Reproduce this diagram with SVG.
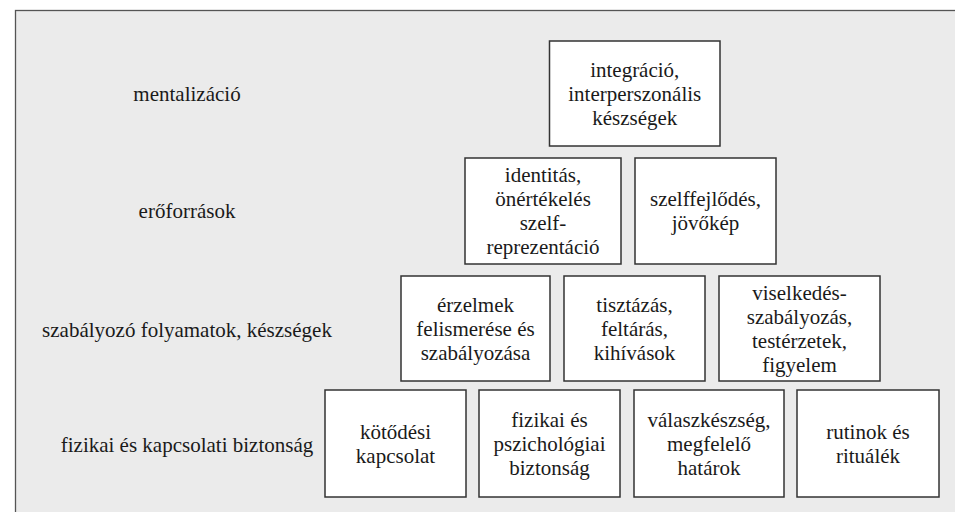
<svg xmlns="http://www.w3.org/2000/svg" width="955" height="512" viewBox="0 0 955 512" font-family="Liberation Serif, serif">
<style>
  .frame { fill: #ebebeb; stroke: #555555; stroke-width: 1.3; }
  .box { fill: #ffffff; stroke: #333333; stroke-width: 1.5; }
</style>
<rect x="0" y="0" width="955" height="512" fill="#ffffff"/>
<rect class="frame" x="15.5" y="10.5" width="960" height="520"/>
<g id="labels">
  <text font-size="21" fill="#1a1a1a" text-anchor="middle" font-family="Liberation Serif, serif"><tspan x="187" y="101" style="font-family:'Liberation Serif',serif">mentalizáció</tspan></text>
  <text font-size="21" fill="#1a1a1a" text-anchor="middle" font-family="Liberation Serif, serif"><tspan x="187" y="218" style="font-family:'Liberation Serif',serif">erőforrások</tspan></text>
  <text font-size="21" fill="#1a1a1a" text-anchor="middle" font-family="Liberation Serif, serif"><tspan x="187" y="337" style="font-family:'Liberation Serif',serif">szabályozó folyamatok, készségek</tspan></text>
  <text font-size="21" fill="#1a1a1a" text-anchor="middle" font-family="Liberation Serif, serif"><tspan x="187" y="452" style="font-family:'Liberation Serif',serif">fizikai és kapcsolati biztonság</tspan></text>
</g>
<g id="connectors"/>
<g id="n-integracio">
  <rect class="box" x="549.5" y="41" width="170.5" height="105"/>
  <text font-size="21" fill="#1a1a1a" text-anchor="middle" font-family="Liberation Serif, serif"><tspan x="634.75" y="76.5" style="font-family:'Liberation Serif',serif">integráció,</tspan><tspan x="634.75" y="100.5" style="font-family:'Liberation Serif',serif">interperszonális</tspan><tspan x="634.75" y="124.5" style="font-family:'Liberation Serif',serif">készségek</tspan></text>
</g>
<g id="n-identitas">
  <rect class="box" x="465" y="158" width="156" height="106"/>
  <text font-size="21" fill="#1a1a1a" text-anchor="middle" font-family="Liberation Serif, serif"><tspan x="543" y="182" style="font-family:'Liberation Serif',serif">identitás,</tspan><tspan x="543" y="206" style="font-family:'Liberation Serif',serif">önértékelés</tspan><tspan x="543" y="230" style="font-family:'Liberation Serif',serif">szelf-</tspan><tspan x="543" y="254" style="font-family:'Liberation Serif',serif">reprezentáció</tspan></text>
</g>
<g id="n-szelffejlodes">
  <rect class="box" x="635" y="158" width="141" height="106"/>
  <text font-size="21" fill="#1a1a1a" text-anchor="middle" font-family="Liberation Serif, serif"><tspan x="705.5" y="206" style="font-family:'Liberation Serif',serif">szelffejlődés,</tspan><tspan x="705.5" y="230" style="font-family:'Liberation Serif',serif">jövőkép</tspan></text>
</g>
<g id="n-erzelmek">
  <rect class="box" x="401" y="276" width="149" height="105"/>
  <text font-size="21" fill="#1a1a1a" text-anchor="middle" font-family="Liberation Serif, serif"><tspan x="475.5" y="311.5" style="font-family:'Liberation Serif',serif">érzelmek</tspan><tspan x="475.5" y="335.5" style="font-family:'Liberation Serif',serif">felismerése és</tspan><tspan x="475.5" y="359.5" style="font-family:'Liberation Serif',serif">szabályozása</tspan></text>
</g>
<g id="n-tisztazas">
  <rect class="box" x="564" y="276" width="141" height="105"/>
  <text font-size="21" fill="#1a1a1a" text-anchor="middle" font-family="Liberation Serif, serif"><tspan x="634.5" y="311.5" style="font-family:'Liberation Serif',serif">tisztázás,</tspan><tspan x="634.5" y="335.5" style="font-family:'Liberation Serif',serif">feltárás,</tspan><tspan x="634.5" y="359.5" style="font-family:'Liberation Serif',serif">kihívások</tspan></text>
</g>
<g id="n-viselkedes">
  <rect class="box" x="719" y="276" width="161" height="105"/>
  <text font-size="21" fill="#1a1a1a" text-anchor="middle" font-family="Liberation Serif, serif"><tspan x="799.5" y="299.5" style="font-family:'Liberation Serif',serif">viselkedés-</tspan><tspan x="799.5" y="323.5" style="font-family:'Liberation Serif',serif">szabályozás,</tspan><tspan x="799.5" y="347.5" style="font-family:'Liberation Serif',serif">testérzetek,</tspan><tspan x="799.5" y="371.5" style="font-family:'Liberation Serif',serif">figyelem</tspan></text>
</g>
<g id="n-kotodesi">
  <rect class="box" x="325" y="390" width="141" height="107"/>
  <text font-size="21" fill="#1a1a1a" text-anchor="middle" font-family="Liberation Serif, serif"><tspan x="395.5" y="438.5" style="font-family:'Liberation Serif',serif">kötődési</tspan><tspan x="395.5" y="462.5" style="font-family:'Liberation Serif',serif">kapcsolat</tspan></text>
</g>
<g id="n-fizikai">
  <rect class="box" x="479" y="390" width="141" height="107"/>
  <text font-size="21" fill="#1a1a1a" text-anchor="middle" font-family="Liberation Serif, serif"><tspan x="549.5" y="426.5" style="font-family:'Liberation Serif',serif">fizikai és</tspan><tspan x="549.5" y="450.5" style="font-family:'Liberation Serif',serif">pszichológiai</tspan><tspan x="549.5" y="474.5" style="font-family:'Liberation Serif',serif">biztonság</tspan></text>
</g>
<g id="n-valaszkeszseg">
  <rect class="box" x="634" y="390" width="150" height="107"/>
  <text font-size="21" fill="#1a1a1a" text-anchor="middle" font-family="Liberation Serif, serif"><tspan x="709" y="426.5" style="font-family:'Liberation Serif',serif">válaszkészség,</tspan><tspan x="709" y="450.5" style="font-family:'Liberation Serif',serif">megfelelő</tspan><tspan x="709" y="474.5" style="font-family:'Liberation Serif',serif">határok</tspan></text>
</g>
<g id="n-rutinok">
  <rect class="box" x="797" y="390" width="142" height="107"/>
  <text font-size="21" fill="#1a1a1a" text-anchor="middle" font-family="Liberation Serif, serif"><tspan x="868" y="438.5" style="font-family:'Liberation Serif',serif">rutinok és</tspan><tspan x="868" y="462.5" style="font-family:'Liberation Serif',serif">rituálék</tspan></text>
</g>
</svg>
